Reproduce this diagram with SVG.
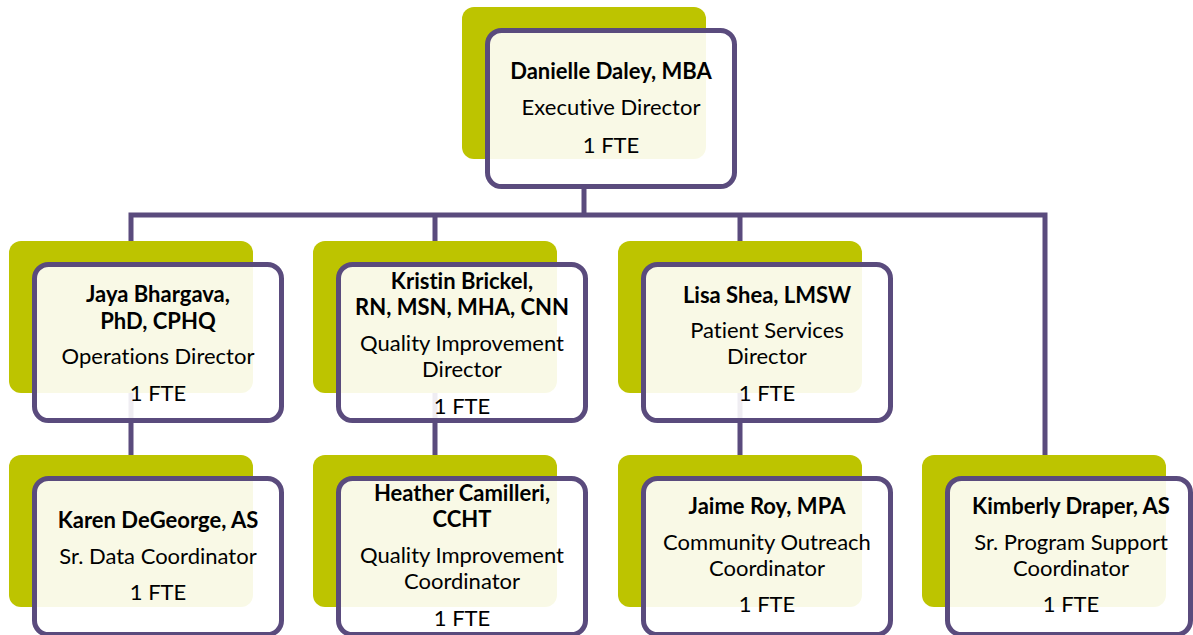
<svg xmlns="http://www.w3.org/2000/svg" width="1193" height="635" viewBox="0 0 1193 635">
<style>
.bg{fill:#BDC400}
.box{fill:#FFFFFF;fill-opacity:0.9;stroke:#5A4B7D;stroke-width:5}
.conn{fill:none;stroke:#5A4B7D;stroke-width:5}
text{font-family:Lato,"Open Sans","Liberation Sans",sans-serif;font-size:22px;fill:#000;text-anchor:middle;font-variant-ligatures:none;font-feature-settings:"liga" 0}
.b{font-weight:bold}
</style>
<rect width="1193" height="635" fill="#fff"/>
<g id="connectors">
<path class="conn" d="M584,185 V215"/>
<path class="conn" d="M131,470 V215 H1045 V470"/>
<path class="conn" d="M435,215 V470"/>
<path class="conn" d="M740,215 V470"/>
</g>
<g id="n-daley">
<rect class="bg" x="462" y="7" width="244" height="152" rx="12"/>
<rect class="box" x="487.5" y="30.5" width="247" height="156" rx="14"/>
<text class="b" x="611" y="79">Danielle Daley, MBA</text>
<text x="611" y="115">Executive Director</text>
<text x="611" y="153">1 FTE</text>
</g>
<g id="n-bhargava">
<rect class="bg" x="9" y="241" width="244" height="152" rx="12"/>
<rect class="box" x="34.5" y="264.5" width="247" height="156" rx="14"/>
<text class="b" x="158" y="302">Jaya Bhargava,</text>
<text class="b" x="158" y="329">PhD, CPHQ</text>
<text x="158" y="364">Operations Director</text>
<text x="158" y="401">1 FTE</text>
</g>
<g id="n-brickel">
<rect class="bg" x="313" y="241" width="244" height="152" rx="12"/>
<rect class="box" x="338.5" y="264.5" width="247" height="156" rx="14"/>
<text class="b" x="462" y="289">Kristin Brickel,</text>
<text class="b" x="462" y="315">RN, MSN, MHA, CNN</text>
<text x="462" y="351">Quality Improvement</text>
<text x="462" y="377">Director</text>
<text x="462" y="414">1 FTE</text>
</g>
<g id="n-shea">
<rect class="bg" x="618" y="241" width="244" height="152" rx="12"/>
<rect class="box" x="643.5" y="264.5" width="247" height="156" rx="14"/>
<text class="b" x="767" y="303">Lisa Shea, LMSW</text>
<text x="767" y="338">Patient Services</text>
<text x="767" y="364">Director</text>
<text x="767" y="401">1 FTE</text>
</g>
<g id="n-degeorge">
<rect class="bg" x="9" y="455" width="244" height="152" rx="12"/>
<rect class="box" x="34.5" y="478.5" width="247" height="156" rx="14"/>
<text class="b" x="158" y="528">Karen DeGeorge, AS</text>
<text x="158" y="564">Sr. Data Coordinator</text>
<text x="158" y="600">1 FTE</text>
</g>
<g id="n-camilleri">
<rect class="bg" x="313" y="455" width="244" height="152" rx="12"/>
<rect class="box" x="338.5" y="478.5" width="247" height="156" rx="14"/>
<text class="b" x="462" y="501">Heather Camilleri,</text>
<text class="b" x="462" y="527">CCHT</text>
<text x="462" y="563">Quality Improvement</text>
<text x="462" y="589">Coordinator</text>
<text x="462" y="626">1 FTE</text>
</g>
<g id="n-roy">
<rect class="bg" x="618" y="455" width="244" height="152" rx="12"/>
<rect class="box" x="643.5" y="478.5" width="247" height="156" rx="14"/>
<text class="b" x="767" y="514">Jaime Roy, MPA</text>
<text x="767" y="550">Community Outreach</text>
<text x="767" y="576">Coordinator</text>
<text x="767" y="612">1 FTE</text>
</g>
<g id="n-draper">
<rect class="bg" x="922" y="455" width="244" height="152" rx="12"/>
<rect class="box" x="947.5" y="478.5" width="243" height="156" rx="14"/>
<text class="b" x="1071" y="514">Kimberly Draper, AS</text>
<text x="1071" y="550">Sr. Program Support</text>
<text x="1071" y="576">Coordinator</text>
<text x="1071" y="612">1 FTE</text>
</g>
</svg>
